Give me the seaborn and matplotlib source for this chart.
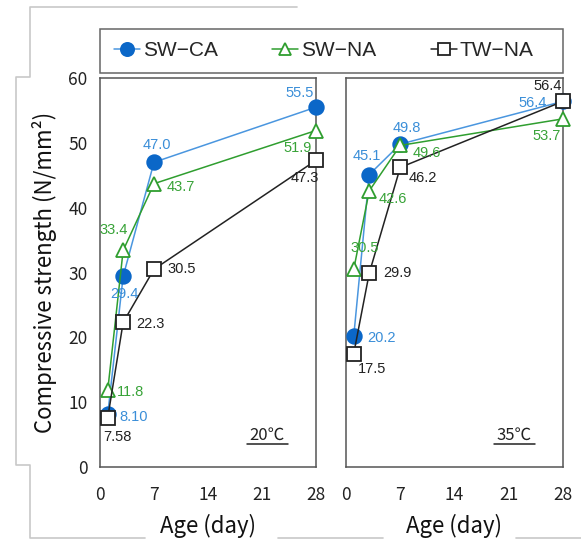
import matplotlib
matplotlib.use("Agg")
import matplotlib.pyplot as plt
from matplotlib.lines import Line2D
from matplotlib.patches import Rectangle
import seaborn as sns
import pandas as pd

# Curing ages (days) and compressive strengths (N/mm²)
days = [1, 3, 7, 28]
series = ["SW−CA", "SW−NA", "TW−NA"]

strength_20c = {
    "SW−CA": [8.10, 29.4, 47.0, 55.5],
    "SW−NA": [11.8, 33.4, 43.7, 51.9],
    "TW−NA": [7.58, 22.3, 30.5, 47.3],
}
strength_35c = {
    "SW−CA": [20.2, 45.1, 49.8, 56.4],
    "SW−NA": [30.5, 42.6, 49.6, 53.7],
    "TW−NA": [17.5, 29.9, 46.2, 56.4],
}
panel_titles = ["20℃", "35℃"]
x_ticks = [0, 7, 14, 21, 28]
y_ticks = [0, 10, 20, 30, 40, 50, 60]

sns.set_style("white")
plt.rcParams["font.family"] = ["Liberation Sans", "DejaVu Sans"]
CJK = ["Noto Sans CJK JP", "DejaVu Sans"]

styles = {
    "SW−CA": dict(line="#4a96df", marker="o", face="#0b67c8", edge="#0b67c8",
                  text="#3a8ed8", ms=10.5),
    "SW−NA": dict(line="#2f9e2f", marker="^", face="white", edge="#2f9e2f",
                  text="#38a338", ms=9.5),
    "TW−NA": dict(line="#222222", marker="s", face="white", edge="#222222",
                  text="#222222", ms=10),
}

# value label offsets (pixels) and horizontal alignment per point
offsets_20c = {
    "SW−CA": [(12, -3, "left"), (1, -18, "center"), (3, 17, "center"), (-16, 14, "center")],
    "SW−NA": [(9, -2, "left"), (-9, 20, "center"), (13, -3, "left"), (-18, -17, "center")],
    "TW−NA": [(10, -19, "center"), (13, -2, "left"), (13, 0, "left"), (-11, -18, "center")],
}
offsets_35c = {
    "SW−CA": [(13, -2, "left"), (-2, 19, "center"), (7, 16, "center"), (-30, -2, "center")],
    "SW−NA": [(11, 21, "center"), (9, -8, "left"), (12, -8, "left"), (-16, -17, "center")],
    "TW−NA": [(4, -15, "left"), (14, 0, "left"), (8, -11, "left"), (-15, 15, "center")],
}

W, H = 581, 542
fig = plt.figure(figsize=(W / 100, H / 100), dpi=100)


def px_rect(x0, y0, x1, y1):
    return [x0 / W, 1 - y1 / H, (x1 - x0) / W, (y1 - y0) / H]


ax_left = fig.add_axes(px_rect(100, 78, 316, 467))
ax_right = fig.add_axes(px_rect(346, 78, 563, 467))


def fmt(v):
    return f"{v:.2f}" if v < 10 else f"{v:.1f}"


for ax, data, offs, title in [
    (ax_left, strength_20c, offsets_20c, panel_titles[0]),
    (ax_right, strength_35c, offsets_35c, panel_titles[1]),
]:
    for name in series:
        st = styles[name]
        df = pd.DataFrame({"day": days, "value": data[name]})
        sns.lineplot(data=df, x="day", y="value", ax=ax, color=st["line"],
                     lw=1.1, marker=st["marker"], markersize=st["ms"],
                     markerfacecolor=st["face"], markeredgecolor=st["edge"],
                     markeredgewidth=1.3, clip_on=False, zorder=3)
        for d, v, (dx, dy, ha) in zip(days, data[name], offs[name]):
            ax.annotate(fmt(v), xy=(d, v), xytext=(dx, dy),
                        textcoords="offset pixels", ha=ha, va="center",
                        fontsize=10.5, color=st["text"], zorder=4)
    ax.set_xlim(0, 28)
    ax.set_ylim(0, 60)
    ax.set_xticks(x_ticks)
    ax.set_yticks(y_ticks)
    ax.tick_params(direction="in", length=5, width=0.9, color="#555555",
                   labelsize=12.5, labelcolor="#222222")
    ax.tick_params(axis="x", pad=14)
    ax.tick_params(axis="y", pad=9)
    for lab in ax.get_xticklabels() + ax.get_yticklabels():
        lab.set_family(CJK)
    for sp in ax.spines.values():
        sp.set_color("#555555")
        sp.set_linewidth(1.1)
    ax.set_xlabel("Age (day)", fontsize=16, family=CJK, labelpad=7, color="#111111")
    ax.set_ylabel("")
    ax.text(0.773, 0.082, title, transform=ax.transAxes, ha="center",
            va="center", fontsize=12, family=CJK, color="#222222")
    ax.plot([0.68, 0.87], [0.058, 0.058], transform=ax.transAxes,
            color="#222222", lw=1.1, clip_on=False)

ax_right.set_yticklabels([])
ax_left.set_ylabel("Compressive strength (N/mm²)", fontsize=16, family=CJK,
                   labelpad=8, color="#111111")

# legend across the top of both panels: a framed box with the entries inside
box = px_rect(100, 29, 563, 73)
fig.add_artist(Rectangle((box[0], box[1]), box[2], box[3], transform=fig.transFigure,
                         facecolor="white", edgecolor="#666666", lw=1.1))
handles = [
    Line2D([], [], color=styles[n]["line"], lw=1.1, marker=styles[n]["marker"],
           markersize=styles[n]["ms"] - 1, markerfacecolor=styles[n]["face"],
           markeredgecolor=styles[n]["edge"], markeredgewidth=1.3)
    for n in series
]
leg = fig.legend(handles, series, loc="center left", ncol=3,
                 bbox_to_anchor=(114 / W, 1 - 51 / H), borderaxespad=0,
                 fontsize=15, handlelength=1.25, handletextpad=0.15,
                 columnspacing=2.6, frameon=False, borderpad=0)

# light grey frame outline around the figure area
frame_pts = [
    [(297, 7), (30, 7), (30, 77), (16, 77), (16, 465), (30, 465), (30, 538), (145, 538)],
    [(278, 538), (383, 538)],
    [(516, 538), (581, 538)],
]
for pts in frame_pts:
    xs = [p[0] / W for p in pts]
    ys = [1 - p[1] / H for p in pts]
    fig.add_artist(Line2D(xs, ys, transform=fig.transFigure, color="#c8c8c8", lw=1.2))

fig.savefig("out.png", dpi=100)
